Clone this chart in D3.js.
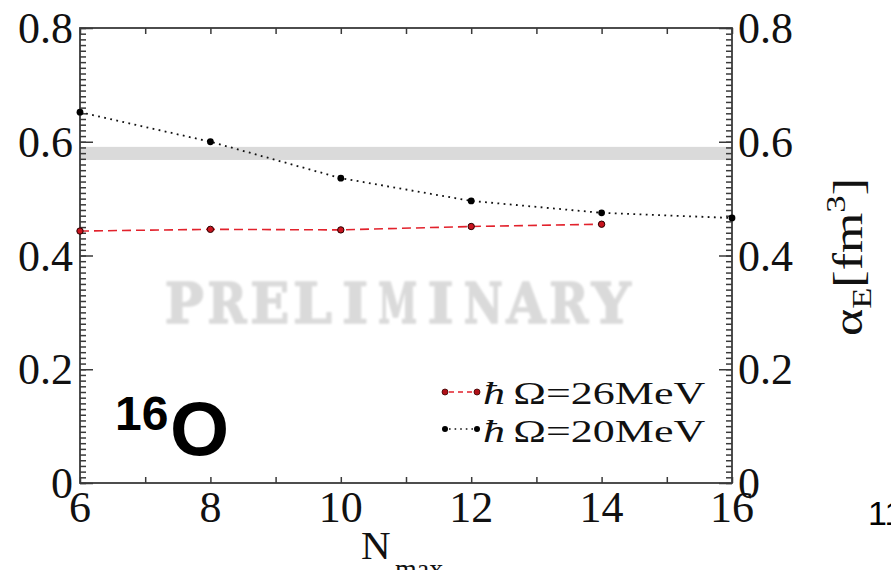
<!DOCTYPE html>
<html>
<head>
<meta charset="utf-8">
<script src="https://cdn.jsdelivr.net/npm/d3@7"></script>
<style>
  html, body { margin: 0; padding: 0; background: #fff; }
  svg { display: block; }
  .serif { font-family: "Liberation Serif", "Times New Roman", Times, serif; }
  .sans { font-family: "Liberation Sans", Arial, Helvetica, sans-serif; }
</style>
</head>
<body>
<svg id="chart" width="891" height="570"></svg>
<script>
// Static polarizability alpha_E of 16O versus model-space size N_max
const nmax20 = [6, 8, 10, 12, 14, 16];
const alpha20 = [0.652, 0.600, 0.536, 0.496, 0.475, 0.466];
const nmax26 = [6, 8, 10, 12, 14];
const alpha26 = [0.443, 0.446, 0.445, 0.451, 0.455];
const expBand = [0.568, 0.591];            // experimental value band
const xTickValues = [6, 7, 8, 9, 10, 11, 12, 13, 14, 15, 16];
const xTickLabels = [6, 8, 10, 12, 14, 16];
const yMajorTicks = [0, 0.2, 0.4, 0.6, 0.8];
const yTickLabels = ["0", "0.2", "0.4", "0.6", "0.8"];
const legendLabels = ["\u0127\u03A9=26MeV", "\u0127\u03A9=20MeV"];
const watermark = "PRELIMINARY";

const svg = d3.select("#chart");
const x = d3.scaleLinear().domain([6, 16]).range([80, 732]);
const y = d3.scaleLinear().domain([0, 0.8]).range([483, 28]);
const yMinor = d3.range(0, 81).map(i => i / 100);
const axisColor = "#3a3a3a";

const defs = svg.append("defs");
defs.append("filter").attr("id", "soft")
  .append("feGaussianBlur").attr("stdDeviation", 0.8);

// experimental band
svg.append("rect")
  .attr("x", x(6)).attr("width", x(16) - x(6))
  .attr("y", y(expBand[1])).attr("height", y(expBand[0]) - y(expBand[1]))
  .attr("fill", "#dadada");

// watermark, one glyph per fixed-pitch cell
const wm = svg.append("g").attr("filter", "url(#soft)");
watermark.split("").forEach((ch, i) => {
  const cx = 163 + 42.7 * (i + 0.5);
  const t = wm.append("text")
    .style("font-family", "'DejaVu Serif', serif")
    .style("font-weight", "bold").style("font-size", "56px")
    .attr("fill", "#dadada").attr("stroke", "#dadada").attr("stroke-width", 1.6)
    .attr("stroke-linejoin", "round")
    .attr("text-anchor", "middle").text(ch);
  const w = t.node().getComputedTextLength();
  const s = Math.min(1, 39 / w);
  t.attr("transform", `translate(${cx},323) scale(${s},1)`);
});

// tick marks (labels are drawn separately below)
function styleAxis(g) {
  g.select(".domain").remove();
  g.selectAll(".tick text").remove();
  g.selectAll(".tick line").attr("stroke", axisColor).attr("stroke-width", 1.5);
}
svg.append("g").attr("transform", `translate(${x(6)},0)`)
  .call(d3.axisLeft(y).tickValues(yMinor).tickSize(-6)).call(styleAxis);
svg.append("g").attr("transform", `translate(${x(6)},0)`)
  .call(d3.axisLeft(y).tickValues(yMajorTicks).tickSize(-13)).call(styleAxis);
svg.append("g").attr("transform", `translate(${x(16)},0)`)
  .call(d3.axisRight(y).tickValues(yMinor).tickSize(-6)).call(styleAxis);
svg.append("g").attr("transform", `translate(${x(16)},0)`)
  .call(d3.axisRight(y).tickValues(yMajorTicks).tickSize(-13)).call(styleAxis);
svg.append("g").attr("transform", `translate(0,${y(0)})`)
  .call(d3.axisBottom(x).tickValues(xTickValues).tickSize(-6)).call(styleAxis);
svg.append("g").attr("transform", `translate(0,${y(0.8)})`)
  .call(d3.axisTop(x).tickValues(xTickValues).tickSize(-6)).call(styleAxis);

// tick labels
const lab = svg.append("g").attr("class", "serif").attr("fill", "#111").style("font-size", "44px");
lab.selectAll(".yl").data(yMajorTicks).join("text")
  .attr("x", x(6) - 7).attr("y", d => y(d) + 15).attr("text-anchor", "end")
  .text((d, i) => yTickLabels[i]);
lab.selectAll(".yr").data(yMajorTicks).join("text")
  .attr("x", x(16) + 6).attr("y", d => y(d) + 15).attr("text-anchor", "start")
  .text((d, i) => yTickLabels[i]);
lab.selectAll(".xl").data(xTickLabels).join("text")
  .attr("x", d => x(d)).attr("y", y(0) + 39).attr("text-anchor", "middle")
  .text(d => d);

// frame
svg.append("rect")
  .attr("x", x(6)).attr("y", y(0.8))
  .attr("width", x(16) - x(6)).attr("height", y(0) - y(0.8))
  .attr("fill", "none").attr("stroke", axisColor).attr("stroke-width", 1.8);

// series
const line = d3.line().x(d => x(d[0])).y(d => y(d[1]));
const s20 = nmax20.map((n, i) => [n, alpha20[i]]);
const s26 = nmax26.map((n, i) => [n, alpha26[i]]);

svg.append("path").datum(s20).attr("d", line)
  .attr("fill", "none").attr("stroke", "#111").attr("stroke-width", 1.8)
  .attr("stroke-dasharray", "1.8,4.4");
svg.append("path").datum(s26).attr("d", line)
  .attr("fill", "none").attr("stroke", "#e2222c").attr("stroke-width", 1.6)
  .attr("stroke-dasharray", "9,5");

svg.append("g").selectAll("circle").data(s20).join("circle")
  .attr("cx", d => x(d[0])).attr("cy", d => y(d[1])).attr("r", 3.4)
  .attr("fill", "#000");
svg.append("g").selectAll("circle").data(s26).join("circle")
  .attr("cx", d => x(d[0])).attr("cy", d => y(d[1])).attr("r", 3.2)
  .attr("fill", "#c8141e").attr("stroke", "#2a0000").attr("stroke-width", 1);

// legend
const legendRows = [
  { y: 392, base: 404, color: "#e2222c", dash: "5,4", fill: "#b01018", stroke: "#3a0000", label: legendLabels[0] },
  { y: 429, base: 442, color: "#111", dash: "1.6,4", fill: "#000", stroke: "none", label: legendLabels[1] }
];
legendRows.forEach(r => {
  const g = svg.append("g");
  g.append("line").attr("x1", 445).attr("x2", 477).attr("y1", r.y).attr("y2", r.y)
    .attr("stroke", r.color).attr("stroke-width", 1.6).attr("stroke-dasharray", r.dash)
    .attr("stroke-dashoffset", -4);
  [445, 477].forEach(cx => g.append("circle").attr("cx", cx).attr("cy", r.y).attr("r", 3)
    .attr("fill", r.fill).attr("stroke", r.stroke).attr("stroke-width", 0.8));
  const t = g.append("text").attr("class", "serif").style("font-size", "32px").attr("fill", "#111");
  t.append("tspan").style("font-style", "italic").text(r.label.slice(0, 1));
  t.append("tspan").attr("dx", 6).text(r.label.slice(1));
  const w = t.node().getComputedTextLength();
  t.attr("transform", `translate(483,${r.base}) scale(${214 / w},1)`);
});

// nucleus tag
const tag = svg.append("text").attr("class", "sans").style("font-weight", "bold").attr("fill", "#000");
tag.append("tspan").attr("x", 115).attr("y", 430).style("font-size", "48px").text("16");
tag.append("tspan").attr("x", 170).attr("y", 455).style("font-size", "76px").text("O");

// x axis title
const xt = svg.append("text").attr("class", "serif").attr("fill", "#111");
xt.append("tspan").attr("x", 361).attr("y", 559).style("font-size", "41px").text("N");
xt.append("tspan").attr("x", 395).attr("y", 578).style("font-size", "28px").text("max");

// right axis title, rotated
const yt = svg.append("text").attr("class", "serif").style("font-size", "42px").attr("fill", "#111");
yt.append("tspan").text("\u03B1");
yt.append("tspan").style("font-size", "28px").attr("dy", 9).text("E");
yt.append("tspan").attr("dy", -9).text("[fm");
yt.append("tspan").style("font-size", "28px").attr("dy", -17).text("3");
yt.append("tspan").attr("dy", 17).text("]");
const yw = yt.node().getComputedTextLength();
yt.attr("transform", `translate(862,336) rotate(-90) scale(${158 / yw},1)`);

// page number at the edge
svg.append("text").attr("class", "sans").attr("x", 868).attr("y", 525)
  .style("font-size", "34px").attr("fill", "#000").text("11");
</script>
</body>
</html>
